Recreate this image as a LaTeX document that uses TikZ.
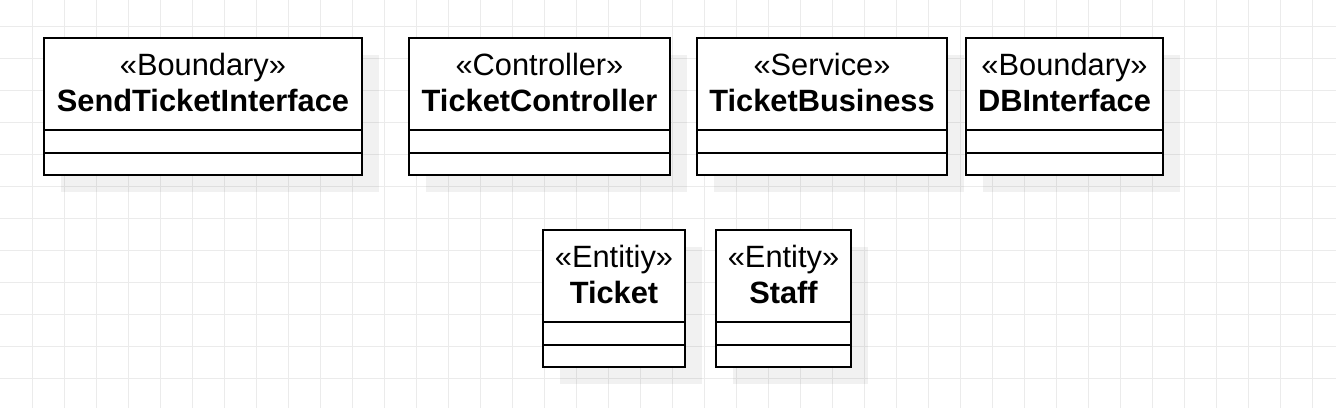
\documentclass[tikz,border=0pt]{standalone}
\usepackage{fontspec}
\setmainfont{Liberation Sans}
\usepackage{tikz}
\usetikzlibrary{positioning,shadows}

\definecolor{gridgray}{HTML}{EBEBEB}

\tikzset{
    gridline/.style={draw=gridgray, line width=1pt},
    classbox/.style={draw=black, fill=white, line width=2.2pt, outer sep=0pt,
        inner sep=0pt, rectangle,
        drop shadow={shadow xshift=17pt, shadow yshift=-17pt, fill=black, opacity=0.055}},
    classhead/.style={classbox, minimum height=92pt, align=center,
        font=\fontsize{30.8}{36}\selectfont, text height=58pt, text depth=4pt},
    classpart/.style={classbox, minimum height=23pt}
}

\begin{document}
\begin{tikzpicture}[x=1pt, y=-1pt]
            \useasboundingbox (0,0) rectangle (1336,408);

            % grid
            \foreach \gx in {32,64,...,1312}{
                \draw[gridline] (\gx,0) -- (\gx,408);
            }
            \foreach \gy in {26,58,...,378}{
                \draw[gridline] (0,\gy) -- (1336,\gy);
            }

            % classes: name/left/top/width/stereotype/class
            \foreach \name/\x/\y/\w/\stereo/\cls in {
                    sti/44/38/318/Boundary/SendTicketInterface,
                    tc/409/38/261/Controller/TicketController,
                    tb/697/38/250/Service/TicketBusiness,
                    dbi/966/38/197/Boundary/DBInterface,
                    tk/543/230/142/Entitiy/Ticket,
                    sf/716/230/135/Entity/Staff}{
                \node[classhead, minimum width=\w pt] (\name) at (\x+\w/2, \y+46) {«\stereo»\\\textbf{\cls}};
                \node[classpart, minimum width=\w pt, below=0pt of \name] (\name-attr) {};
                \node[classpart, minimum width=\w pt, minimum height=22pt, below=0pt of \name-attr] (\name-ops) {};
            }
        \end{tikzpicture}
\end{document}
